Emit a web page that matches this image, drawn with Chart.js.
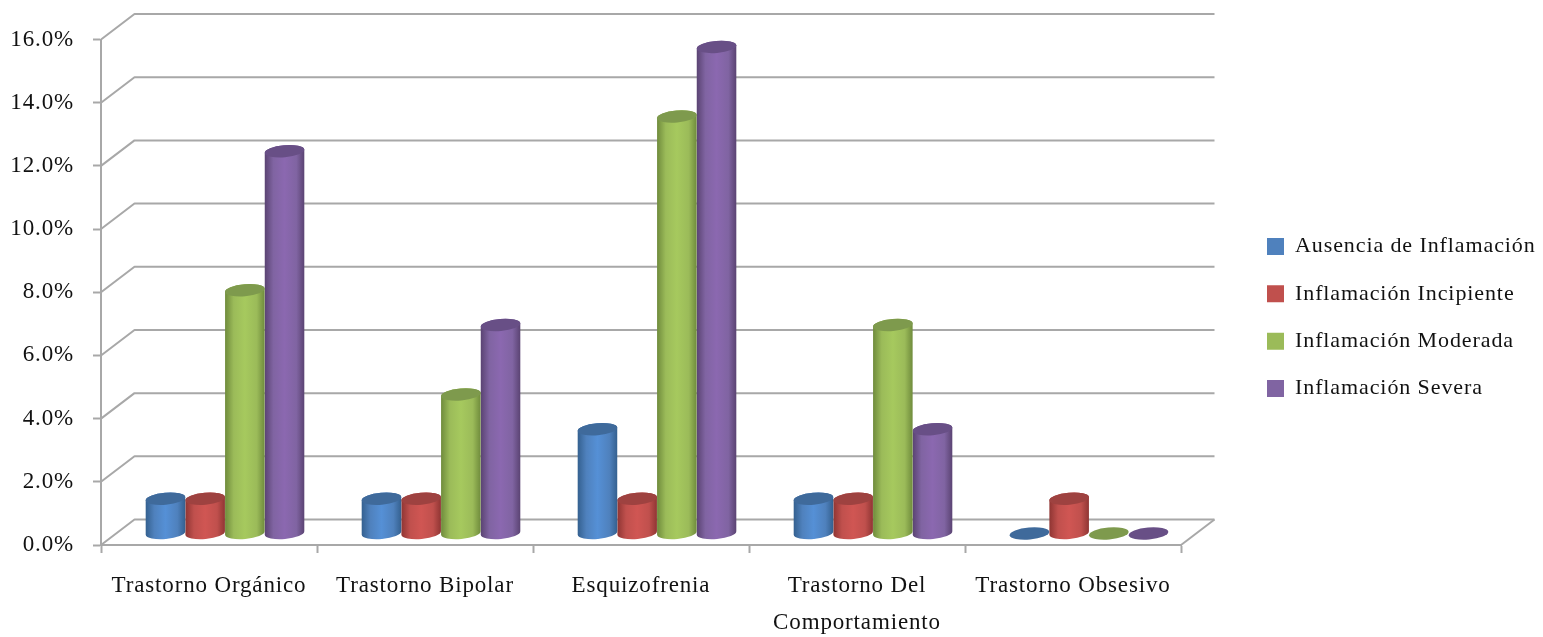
<!DOCTYPE html>
<html>
<head>
<meta charset="utf-8">
<title>Inflamación por trastorno</title>
<script src="https://cdn.jsdelivr.net/npm/chart.js@4/dist/chart.umd.min.js"></script>
<style>
    html, body { margin: 0; padding: 0; background: #fff; }
    canvas { display: block; }
</style>
</head>
<body>
<canvas id="chart" width="1543" height="637"></canvas>
<script>
const categories = ['Trastorno Orgánico', 'Trastorno Bipolar', 'Esquizofrenia', ['Trastorno Del', 'Comportamiento'], 'Trastorno Obsesivo'];
const seriesNames = ['Ausencia de Inflamación', 'Inflamación Incipiente', 'Inflamación Moderada', 'Inflamación Severa'];
const ausencia = [1.1, 1.1, 3.3, 1.1, 0];
const incipiente = [1.1, 1.1, 1.1, 1.1, 1.1];
const moderada = [7.7, 4.4, 13.2, 6.6, 0];
const severa = [12.1, 6.6, 15.4, 3.3, 0];

const baseColors = ['#4f81bd', '#c0504d', '#9bbb59', '#8064a2'];
const edgeColors = ['#34608f', '#8f3533', '#6f8b3c', '#5a4372'];
const midColors = ['#5590d6', '#d05653', '#a6c95e', '#8b68b0'];
const capColors = ['#3f6a9b', '#9e4240', '#7e9a4d', '#684f86'];

const FONT = '"Liberation Serif", "Times New Roman", serif';
const GRID = '#a8a8a8';
// offset of the back wall and of the bars from the front plane
const WALL_X = 33.5, WALL_Y = -25.5;
const BAR_X = 16, BAR_Y = -11.5;
const CAP_RY = 6, CAP_TILT = -0.085;

function drawCylinder(ctx, el, i) {
    const a = el.width / 2;
    const cx = el.x + BAR_X;
    const top = el.y + BAR_Y;
    const bottom = el.base + BAR_Y;

    if (bottom - top > 0.5) {
        const grad = ctx.createLinearGradient(cx - a, 0, cx + a, 0);
        grad.addColorStop(0, edgeColors[i]);
        grad.addColorStop(0.22, baseColors[i]);
        grad.addColorStop(0.5, midColors[i]);
        grad.addColorStop(0.8, baseColors[i]);
        grad.addColorStop(1, edgeColors[i]);
        ctx.beginPath();
        ctx.ellipse(cx, bottom, a, CAP_RY, CAP_TILT, 0, Math.PI);
        ctx.ellipse(cx, top, a, CAP_RY, CAP_TILT, Math.PI, Math.PI * 2);
        ctx.closePath();
        ctx.fillStyle = grad;
        ctx.fill();
    }
    ctx.beginPath();
    ctx.ellipse(cx, top, a, CAP_RY, CAP_TILT, 0, Math.PI * 2);
    ctx.fillStyle = capColors[i];
    ctx.fill();
}

const wallPlugin = {
    id: 'wall',
    beforeInit(chart) {
        // legend takes all the room right of the plot, the boxes sit further in
        const legend = chart.legend;
        const fit = legend.fit;
        legend.fit = function () {
            fit.call(this);
            this.width = 1543 - 1181;
        };
        const draw = legend.draw;
        legend.draw = function () {
            this.ctx.letterSpacing = '0.9px';
            draw.call(this);
            this.ctx.letterSpacing = '0.85px';
        };
    },
    afterLayout(chart) {
        chart.legend.left = 1267 - chart.options.plugins.legend.labels.padding;
        chart.legend.top = -2;
    },
    beforeDraw(chart) {
        chart.ctx.letterSpacing = '0.85px';
    },
    beforeDatasetsDraw(chart) {
        const { ctx, chartArea, scales } = chart;
        ctx.save();
        ctx.strokeStyle = GRID;
        ctx.lineWidth = 2;
        ctx.lineJoin = 'round';
        scales.y.ticks.forEach(t => {
            const y = scales.y.getPixelForValue(t.value);
            ctx.beginPath();
            ctx.moveTo(chartArea.left, y);
            ctx.lineTo(chartArea.left + WALL_X, y + WALL_Y);
            ctx.lineTo(chartArea.right + WALL_X, y + WALL_Y);
            ctx.stroke();
        });
        ctx.beginPath();
        ctx.moveTo(chartArea.right, chartArea.bottom);
        ctx.lineTo(chartArea.right + WALL_X, chartArea.bottom + WALL_Y);
        ctx.stroke();
        ctx.restore();
    },
    beforeDatasetDraw(chart, args) {
        const ctx = chart.ctx;
        ctx.save();
        args.meta.data.forEach(el => drawCylinder(ctx, el, args.index));
        ctx.restore();
        return false;
    }
};

const seriesValues = [ausencia, incipiente, moderada, severa];

new Chart(document.getElementById('chart').getContext('2d'), {
    type: 'bar',
    data: {
        labels: categories,
        datasets: seriesNames.map((name, i) => ({
            label: name,
            data: seriesValues[i],
            backgroundColor: baseColors[i],
            barPercentage: 1,
            categoryPercentage: 0.735
        }))
    },
    options: {
        responsive: false,
        animation: false,
        layout: { padding: { top: 39.5, left: 0, right: 0, bottom: 0 } },
        plugins: {
            tooltip: { enabled: false },
            legend: {
                position: 'right',
                labels: {
                    font: { family: FONT, size: 22 },
                    color: '#111',
                    boxWidth: 17,
                    boxHeight: 17,
                    padding: 25.3
                }
            }
        },
        scales: {
            x: {
                afterFit(scale) { scale.height = 92; },
                grid: { offset: true, drawOnChartArea: false, drawTicks: true, tickLength: 8, tickColor: GRID, tickWidth: 2 },
                border: { color: GRID, width: 2 },
                ticks: {
                    font: { family: FONT, size: 23, lineHeight: 1.61 },
                    color: '#111',
                    maxRotation: 0,
                    autoSkip: false,
                    padding: 14
                }
            },
            y: {
                min: 0,
                max: 16,
                afterFit(scale) { scale.width = 101; },
                grid: { drawOnChartArea: false, drawTicks: true, tickLength: 8, tickColor: GRID, tickWidth: 2 },
                border: { color: GRID, width: 2 },
                ticks: {
                    stepSize: 2,
                    font: { family: FONT, size: 23 },
                    color: '#111',
                    padding: 19,
                    callback: value => value.toFixed(1) + '%'
                }
            }
        }
    },
    plugins: [wallPlugin]
});
</script>
</body>
</html>
